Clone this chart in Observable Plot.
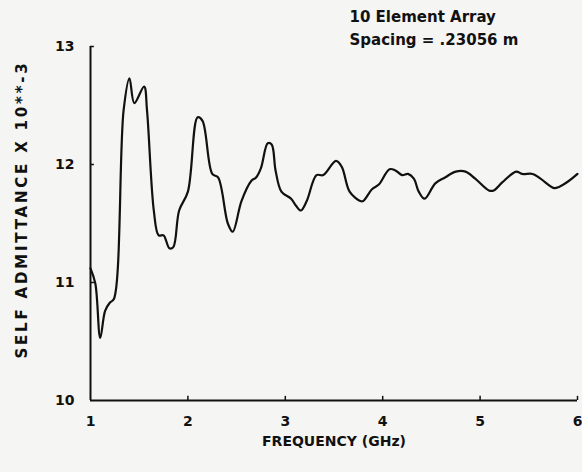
<!DOCTYPE html>
<html>
<head>
<meta charset="utf-8">
<script src="https://cdn.jsdelivr.net/npm/d3@7"></script>
<script src="https://cdn.jsdelivr.net/npm/@observablehq/plot@0.6"></script>
<style>
  html, body { margin: 0; padding: 0; background: #f5f5f3; }
  #chart svg { display: block; background: #f5f5f3; }
</style>
</head>
<body>
<div id="chart"></div>
<script>
const frequency = [1.00, 1.05, 1.10, 1.15, 1.20, 1.24, 1.34, 1.40, 1.45, 1.55, 1.58, 1.65, 1.70, 1.75, 1.81, 1.85, 1.91, 2.00, 2.10, 2.15, 2.25, 2.31, 2.41, 2.46, 2.55, 2.65, 2.70, 2.75, 2.82, 2.86, 2.90, 2.96, 3.06, 3.11, 3.16, 3.22, 3.32, 3.39, 3.52, 3.58, 3.66, 3.77, 3.80, 3.89, 3.96, 4.07, 4.13, 4.20, 4.26, 4.32, 4.37, 4.43, 4.54, 4.64, 4.75, 4.85, 4.95, 5.09, 5.14, 5.23, 5.37, 5.43, 5.54, 5.62, 5.76, 5.81, 5.91, 6.00];
const admittance = [11.12, 10.99, 10.53, 10.76, 10.83, 10.86, 12.46, 12.73, 12.52, 12.66, 12.46, 11.61, 11.40, 11.40, 11.29, 11.30, 11.61, 11.77, 12.40, 12.37, 11.92, 11.89, 11.50, 11.43, 11.69, 11.86, 11.89, 11.97, 12.18, 12.17, 11.95, 11.77, 11.71, 11.65, 11.61, 11.69, 11.91, 11.91, 12.03, 11.98, 11.77, 11.69, 11.69, 11.79, 11.83, 11.96, 11.95, 11.91, 11.92, 11.88, 11.77, 11.71, 11.84, 11.89, 11.94, 11.94, 11.88, 11.78, 11.78, 11.85, 11.94, 11.92, 11.92, 11.88, 11.80, 11.81, 11.86, 11.92];
const xTicks = [1, 2, 3, 4, 5, 6];
const yTicks = [10, 11, 12, 13];
const xTickLabels = ["1", "2", "3", "4", "5", "6"];
const yTickLabels = ["10", "11", "12", "13"];
const titleLines = ["10 Element Array", "Spacing = .23056 m"];
const xTitle = "FREQUENCY (GHz)";
const yTitle = "SELF ADMITTANCE X 10**-3";

const data = frequency.map((f, i) => ({f, v: admittance[i]}));
const font = "'DejaVu Sans', sans-serif";

const chart = Plot.plot({
  width: 582,
  height: 472,
  marginLeft: 90,
  marginRight: 5,
  marginTop: 46,
  marginBottom: 72,
  style: {fontFamily: font, fontSize: "14px", fontWeight: "bold", color: "#111", background: "#f5f5f3"},
  x: {domain: [1, 6]},
  y: {domain: [10, 13]},
  marks: [
    Plot.axisX(xTicks, {tickSize: 0, tickPadding: 16, tickFormat: (d, i) => xTickLabels[i], label: xTitle, labelAnchor: "center", labelOffset: 45, labelArrow: "none", fontSize: 14}),
    Plot.axisY(yTicks, {tickSize: 0, tickPadding: 16, tickFormat: (d, i) => yTickLabels[i], label: yTitle, labelAnchor: "center", labelOffset: 74, labelArrow: "none", fontSize: 14}),
    Plot.ruleX([1], {y1: 10, y2: 13, stroke: "#111", strokeWidth: 2}),
    Plot.ruleY([10], {x1: 1, x2: 6, stroke: "#111", strokeWidth: 2}),
    Plot.ruleX(xTicks.slice(1), {x: d => d, y1: 10, y2: 10.035, stroke: "#111", strokeWidth: 1.5}),
    Plot.ruleY(yTicks.slice(1), {y: d => d, x1: 1, x2: 1.04, stroke: "#111", strokeWidth: 1.5}),
    Plot.line(data, {x: "f", y: "v", stroke: "#111", strokeWidth: 2.2, strokeLinejoin: "round", curve: "catmull-rom"}),
    Plot.text([titleLines.join("\n")], {frameAnchor: "top-left", dx: 259, dy: -40, textAnchor: "start", lineAnchor: "top", lineHeight: 1.5, fontSize: 15, fill: "#111"})
  ]
});
// widen the letter spacing of the vertical axis title, as in the plotter lettering, and lift it slightly
d3.select(chart).selectAll("g[aria-label='y-axis label']").each(function() {
  const g = d3.select(this);
  const t = g.attr("transform") || "";
  g.attr("transform", "translate(0,-14) " + t);
  g.selectAll("text").attr("letter-spacing", "2.8px").attr("font-size", 15);
});
document.getElementById("chart").appendChild(chart);
</script>
</body>
</html>
